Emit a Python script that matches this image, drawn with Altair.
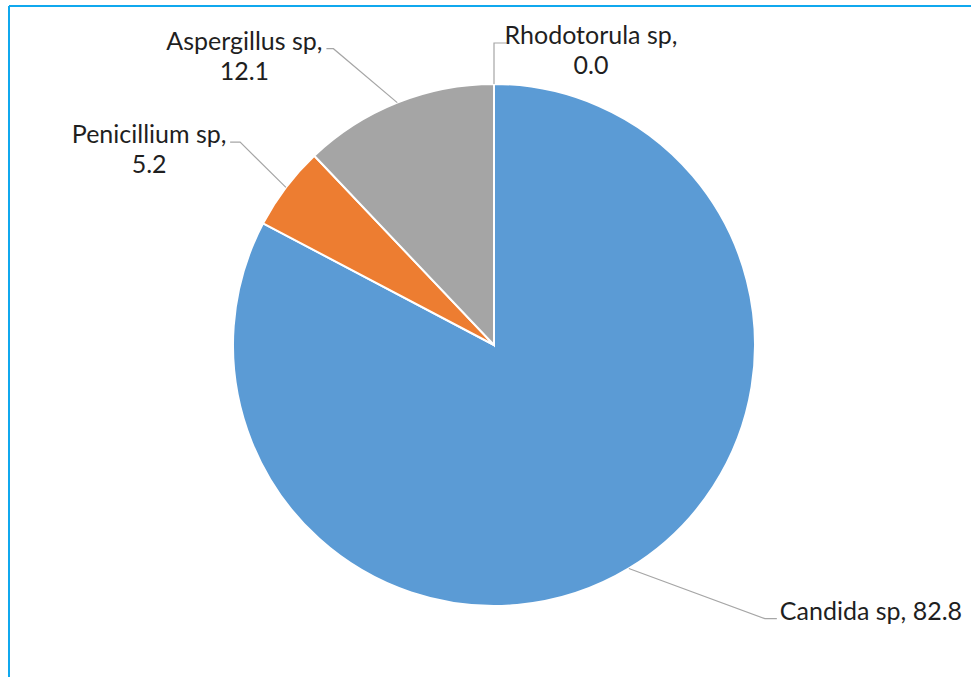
import math

import altair as alt
import pandas as pd

# Share of isolates by genus (%), in the order the slices run clockwise from 12 o'clock
species = ["Candida sp", "Penicillium sp", "Aspergillus sp", "Rhodotorula sp"]
percent = [82.8, 5.2, 12.1, 0.0]
colors = ["#5B9BD5", "#ED7D31", "#A5A5A5", "#FFC000"]

# Plot geometry: pie centred at the origin, one unit per pixel
R = 261
X_DOMAIN = [-485, 477]
Y_DOMAIN = [-332, 339]
W, H = 962, 671

# Call-out layout: elbow of each leader line (radius, angle shift from the slice
# middle), horizontal tail length and where the text block sits after the tail.
callout = {
    "Candida sp": dict(r=385, dtheta=-13.6, tail=12, wrap=False, text_dx=3),
    "Penicillium sp": dict(r=325, dtheta=1.5, tail=-10, wrap=True, text_dx=-81),
    "Aspergillus sp": dict(r=337, dtheta=-6.7, tail=-7, wrap=True, text_dx=-82),
    "Rhodotorula sp": dict(r=302, dtheta=0.0, tail=13, wrap=True, text_dx=84),
}

pie_df = pd.DataFrame({"species": species, "percent": percent, "idx": range(len(species))})

total = sum(percent)
line_rows, text_rows = [], []
cum = 0.0
for name, val in zip(species, percent):
    mid = (cum + val / 2) / total * 360
    cum += val
    c = callout[name]
    a0 = math.radians(mid)
    a1 = math.radians(mid + c["dtheta"])
    sx, sy = R * math.sin(a0), R * math.cos(a0)
    ex, ey = c["r"] * math.sin(a1), c["r"] * math.cos(a1)
    tx = ex + c["tail"]
    for k, (px, py) in enumerate([(sx, sy), (ex, ey), (tx, ey)]):
        line_rows.append({"species": name, "k": k, "x": px, "y": py})
    if c["wrap"]:
        label = f"{name},\n{val:.1f}"
        align = "center"
    else:
        label = f"{name}, {val:.1f}"
        align = "left"
    text_rows.append({"species": name, "x": tx + c["text_dx"], "y": ey - 1,
                      "label": label, "align": align})

lines_df = pd.DataFrame(line_rows)
text_df = pd.DataFrame(text_rows)

xscale = alt.Scale(domain=X_DOMAIN, nice=False, zero=False)
yscale = alt.Scale(domain=Y_DOMAIN, nice=False, zero=False)

pie = alt.Chart(pie_df).mark_arc(outerRadius=R, stroke="white", strokeWidth=2).encode(
    theta=alt.Theta("percent:Q", stack=True),
    color=alt.Color("species:N", scale=alt.Scale(domain=species, range=colors), legend=None),
    order=alt.Order("idx:Q"),
    x=alt.X(datum=0, type="quantitative", scale=xscale, axis=None),
    y=alt.Y(datum=0, type="quantitative", scale=yscale, axis=None),
)

leaders = alt.Chart(lines_df).mark_line(color="#A6A6A6", strokeWidth=1.2).encode(
    x=alt.X("x:Q", scale=xscale, axis=None),
    y=alt.Y("y:Q", scale=yscale, axis=None),
    detail="species:N",
    order="k:Q",
)

text_style = dict(font="Lato", fontSize=25, color="#1F1F1F", lineBreak="\n",
                  lineHeight=30, baseline="alphabetic")

labels_left = alt.Chart(text_df).transform_filter(alt.datum.align == "left").mark_text(
    align="left", **text_style
).encode(
    x=alt.X("x:Q", scale=xscale, axis=None),
    y=alt.Y("y:Q", scale=yscale, axis=None),
    text="label:N",
)

labels_center = alt.Chart(text_df).transform_filter(alt.datum.align == "center").mark_text(
    align="center", **text_style
).encode(
    x=alt.X("x:Q", scale=xscale, axis=None),
    y=alt.Y("y:Q", scale=yscale, axis=None),
    text="label:N",
)

# Chart frame: only the top and left edges fall inside the canvas
frame_top = alt.Chart(pie_df).mark_rule(color="#10A8EE", strokeWidth=2).encode(
    x=alt.value(0), x2=alt.value(W), y=alt.value(0)
)
frame_left = alt.Chart(pie_df).mark_rule(color="#10A8EE", strokeWidth=2).encode(
    x=alt.value(0), y=alt.value(0), y2=alt.value(H)
)

chart = alt.layer(pie, leaders, labels_left, labels_center, frame_top, frame_left).properties(
    width=W,
    height=H,
    padding={"left": 9, "top": 6, "right": 0, "bottom": 0},
    autosize=alt.AutoSizeParams(type="none"),
    background="white",
).configure_view(stroke=None)

chart.save("out.html", embed_options={"renderer": "svg", "actions": False})
